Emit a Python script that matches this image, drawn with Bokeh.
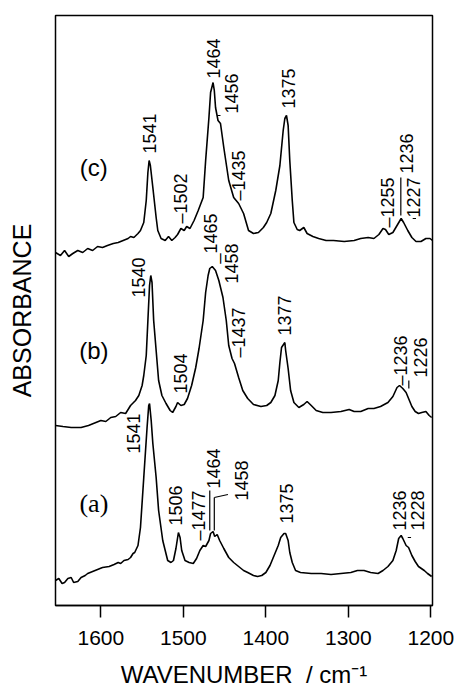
import math
from bokeh.plotting import figure
from bokeh.models import Range1d, FixedTicker, ColumnDataSource
from bokeh.core.properties import value
from bokeh.embed import file_html
from bokeh.resources import INLINE

# ---------------- data (wavenumber / cm^-1, absorbance a.u., stacked) ----------------
wn_c = [1655, 1649, 1644, 1639, 1634, 1628, 1622, 1616, 1610, 1604, 1598, 1592, 1585, 1579,
        1573, 1567, 1564, 1560, 1555, 1552, 1548, 1545, 1543, 1541.5, 1540, 1537, 1533, 1531,
        1527, 1522, 1518, 1514, 1510, 1507, 1503, 1499, 1496, 1492, 1487, 1482, 1476, 1473,
        1469, 1467, 1464, 1462.5, 1461, 1458, 1455, 1451, 1445, 1439, 1433, 1427, 1421, 1415,
        1409, 1403, 1399, 1394, 1388, 1383, 1379, 1377, 1375, 1373, 1371, 1368, 1366, 1362,
        1359, 1354, 1350, 1343, 1336, 1327, 1318, 1305, 1293, 1285, 1276, 1269, 1263, 1258,
        1255, 1251, 1246, 1241, 1236, 1233, 1228, 1223, 1218, 1212, 1206, 1201, 1198]
ab_c = [3.53, 3.50, 3.55, 3.49, 3.52, 3.55, 3.53, 3.57, 3.55, 3.59, 3.58, 3.60, 3.62, 3.63,
        3.65, 3.67, 3.69, 3.68, 3.72, 3.75, 3.83, 4.05, 4.33, 4.45, 4.40, 4.18, 3.88, 3.75,
        3.67, 3.65, 3.69, 3.65, 3.68, 3.71, 3.77, 3.75, 3.79, 3.77, 3.85, 3.95, 4.08, 4.45,
        4.88, 5.13, 5.23, 5.15, 4.98, 4.85, 4.82, 4.58, 4.25, 4.08, 4.02, 3.92, 3.75, 3.72,
        3.73, 3.78, 3.83, 3.92, 4.15, 4.40, 4.75, 4.87, 4.90, 4.80, 4.45, 4.05, 3.83, 3.76,
        3.75, 3.78, 3.72, 3.69, 3.67, 3.65, 3.65, 3.64, 3.65, 3.67, 3.68, 3.67, 3.71, 3.77,
        3.76, 3.71, 3.73, 3.80, 3.87, 3.83, 3.75, 3.68, 3.64, 3.64, 3.67, 3.67, 3.65]

wn_b = [1655, 1646, 1636, 1624, 1615, 1606, 1600, 1594, 1588, 1582, 1576, 1570, 1564, 1558,
        1554, 1550, 1548, 1545, 1543, 1541, 1539.5, 1538, 1536, 1533, 1530, 1526, 1521, 1516,
        1513, 1509, 1507, 1503, 1499, 1495, 1490, 1485, 1481, 1476, 1473, 1470, 1468, 1465,
        1463, 1461, 1457, 1452, 1448, 1445, 1441, 1438, 1433, 1428, 1422, 1415, 1406, 1399,
        1394, 1389, 1385, 1383, 1381, 1377, 1376, 1373, 1370, 1366, 1360, 1354, 1350, 1345,
        1339, 1331, 1321, 1309, 1299, 1293, 1285, 1276, 1269, 1261, 1252, 1246, 1241, 1238,
        1234, 1230, 1227, 1223, 1219, 1215, 1211, 1206, 1202, 1199]
ab_b = [1.80, 1.79, 1.78, 1.78, 1.80, 1.83, 1.85, 1.84, 1.88, 1.89, 1.93, 1.92, 2.00, 2.05,
        2.10, 2.20, 2.30, 2.50, 2.85, 3.20, 3.30, 3.23, 2.85, 2.55, 2.25, 2.10, 2.02, 1.95,
        1.93, 1.99, 2.03, 2.00, 2.01, 2.07, 2.20, 2.38, 2.57, 2.85, 3.13, 3.30, 3.37, 3.39,
        3.37, 3.35, 3.25, 3.08, 2.85, 2.60, 2.47, 2.42, 2.28, 2.15, 2.07, 2.01, 1.99, 2.00,
        2.03, 2.10, 2.25, 2.43, 2.58, 2.63, 2.55, 2.37, 2.15, 2.03, 1.98, 2.01, 2.04, 2.00,
        1.95, 1.93, 1.93, 1.94, 1.96, 1.94, 1.94, 1.97, 1.97, 1.99, 2.03, 2.09, 2.18, 2.20,
        2.17, 2.13, 2.07, 1.99, 1.94, 1.92, 1.93, 1.94, 1.90, 1.88]

wn_a = [1655, 1651, 1647, 1644, 1640, 1636, 1633, 1628, 1624, 1619, 1616, 1610, 1604, 1598,
        1590, 1584, 1579, 1576, 1572, 1567, 1564, 1561, 1559, 1555, 1552, 1548, 1544, 1542,
        1541, 1539, 1537, 1533, 1530, 1525, 1519, 1515, 1512, 1509, 1506, 1504, 1502, 1498,
        1493, 1488, 1484, 1480, 1476, 1473, 1469, 1467, 1464, 1462, 1459, 1456, 1451, 1445,
        1439, 1433, 1427, 1422, 1415, 1410, 1405, 1400, 1395, 1390, 1385, 1382, 1378, 1376,
        1373, 1371, 1368, 1364, 1358, 1345, 1333, 1321, 1309, 1297, 1289, 1281, 1273, 1264,
        1258, 1252, 1246, 1242, 1239, 1236, 1234, 1230, 1227, 1223, 1219, 1215, 1208, 1204, 1199]
ab_a = [0.25, 0.27, 0.22, 0.23, 0.27, 0.28, 0.23, 0.24, 0.28, 0.30, 0.32, 0.34, 0.36, 0.38,
        0.39, 0.41, 0.43, 0.42, 0.45, 0.46, 0.48, 0.52, 0.53, 0.60, 0.78, 1.28, 1.78, 2.00,
        2.02, 1.85, 1.62, 1.28, 0.95, 0.65, 0.45, 0.43, 0.45, 0.57, 0.73, 0.68, 0.55, 0.45,
        0.43, 0.42, 0.47, 0.55, 0.60, 0.59, 0.65, 0.72, 0.74, 0.69, 0.71, 0.65, 0.57, 0.48,
        0.43, 0.39, 0.35, 0.33, 0.30, 0.29, 0.30, 0.33, 0.40, 0.50, 0.60, 0.68, 0.72, 0.72,
        0.65, 0.53, 0.43, 0.35, 0.33, 0.32, 0.32, 0.31, 0.32, 0.33, 0.35, 0.35, 0.33, 0.32,
        0.35, 0.39, 0.45, 0.55, 0.67, 0.70, 0.67, 0.60, 0.58, 0.50, 0.44, 0.39, 0.35, 0.32, 0.29]

# peak labels: text, wavenumber position, absorbance at label start
peak_text = ["1541", "\u20131502", "1464", "1456", "\u20131435", "1375", "\u20131255", "1236", "1227",
             "1540", "1504", "_1465", "1458", "\u20131437", "1377", "\u20131236", "1226",
             "1541", "1506", "\u20131477", "1464", "1458", "1375", "1236", "1228"]
peak_x = [1540.6, 1503, 1463, 1442, 1433, 1373, 1252, 1230, 1221,
          1554, 1503, 1467, 1442, 1433, 1378, 1236.4, 1212,
          1560, 1509, 1481, 1464, 1430, 1374.5, 1237.6, 1216]
peak_y = [4.52, 3.82, 5.27, 4.92, 4.05, 4.97, 3.78, 4.32, 3.88,
          3.08, 2.12, 3.42, 3.22, 2.48, 2.70, 2.20, 2.28,
          1.52, 0.80, 0.65, 1.17, 1.05, 0.82, 0.75, 0.75]

# leader lines
lead_x0 = [1459, 1236.4, 1222, 1226.7, 1468, 1462.5, 1462.5, 1228]
lead_y0 = [4.90, 3.90, 3.87, 2.25, 0.75, 0.75, 1.08, 0.68]
lead_x1 = [1455, 1236.4, 1218, 1226.7, 1468, 1462.5, 1446, 1224]
lead_y1 = [4.90, 4.28, 3.87, 2.17, 1.15, 1.08, 1.11, 0.68]

trace_names = ["(c)", "(b)", "(a)"]
trace_x = [1608.5, 1608.5, 1608.5]
trace_y = [4.38, 2.55, 1.02]

x_ticks = [1600, 1500, 1400, 1300, 1200]

# ---------------- figure ----------------
p = figure(width=459, height=691, x_range=Range1d(1655, 1198), y_range=Range1d(0, 5.9),
           output_backend="svg", toolbar_location=None,
           min_border_left=55, min_border_right=27, min_border_top=15, min_border_bottom=86)
p.grid.visible = False
p.outline_line_color = "black"
p.outline_line_width = 1.5
p.background_fill_color = "white"
p.border_fill_color = "white"

xa = p.xaxis[0]
xa.ticker = FixedTicker(ticks=x_ticks)
xa.minor_tick_line_color = None
xa.major_tick_in = 0
xa.major_tick_out = 12
xa.major_tick_line_width = 1.5
xa.axis_line_width = 1.5
xa.major_label_text_font = "Liberation Sans"
xa.major_label_text_font_size = "21px"
xa.major_label_text_color = "black"
xa.major_label_standoff = 13
xa.axis_label = "WAVENUMBER\u00a0 / cm\u207b\u00b9"
xa.axis_label_text_font = "Liberation Sans"
xa.axis_label_text_font_size = "24px"
xa.axis_label_text_font_style = "normal"
xa.axis_label_text_color = "black"
xa.axis_label_standoff = 13

ya = p.yaxis[0]
ya.ticker = FixedTicker(ticks=[])
ya.minor_tick_line_color = None
ya.major_tick_in = 0
ya.major_tick_out = 0
ya.axis_line_color = None
ya.axis_label = "ABSORBANCE"
ya.axis_label_text_font = "Liberation Sans"
ya.axis_label_text_font_size = "25px"
ya.axis_label_text_font_style = "normal"
ya.axis_label_text_color = "black"
ya.axis_label_standoff = 20

for xs, ys in ((wn_c, ab_c), (wn_b, ab_b), (wn_a, ab_a)):
    p.line(xs, ys, line_color="black", line_width=1.6)

p.segment(x0=lead_x0, y0=lead_y0, x1=lead_x1, y1=lead_y1, line_color="black", line_width=1.2)

src = ColumnDataSource(dict(x=peak_x, y=peak_y, t=peak_text))
p.text(x="x", y="y", text="t", source=src, angle=math.pi / 2, text_align="left",
       text_baseline="middle", text_font=value("Liberation Sans"), text_font_size="18px",
       text_color="black")

p.text(x=trace_x[:2], y=trace_y[:2], text=trace_names[:2], text_align="center",
       text_baseline="middle", text_font=value("Liberation Sans"), text_font_size="24px",
       text_color="black")
p.text(x=trace_x[2:], y=trace_y[2:], text=trace_names[2:], text_align="center",
       text_baseline="middle", text_font=value("Liberation Serif"), text_font_size="26px",
       text_color="black")

open("out.html", "w").write(file_html(p, INLINE))
